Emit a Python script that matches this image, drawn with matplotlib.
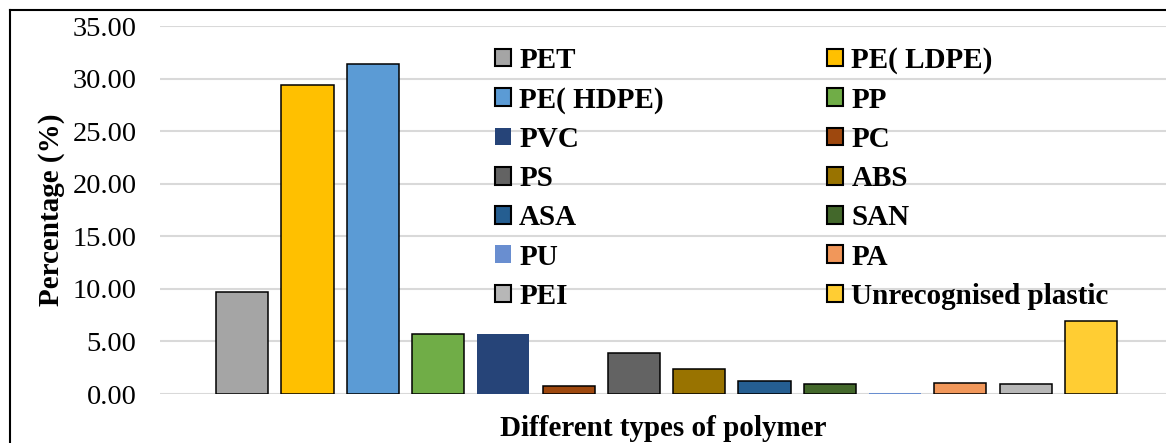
import matplotlib.pyplot as plt
from matplotlib.patches import Patch
from matplotlib.lines import Line2D

# Datos del gráfico
polymers = ["PET", "PE( LDPE)", "PE( HDPE)", "PP", "PVC", "PC", "PS", "ABS",
            "ASA", "SAN", "PU", "PA", "PEI", "Unrecognised plastic"]
percent = [9.7, 29.4, 31.4, 5.7, 5.7, 0.8, 3.9, 2.4, 1.2, 0.95, 0.05, 1.05, 0.95, 6.9]
colors = ["#A5A5A5", "#FFC000", "#5B9BD5", "#70AD47", "#264478", "#9E480E", "#636363",
          "#997300", "#255E91", "#43682B", "#698ED0", "#F1975A", "#B7B7B7", "#FFCD33"]
edged = [True, True, True, True, False, True, True, True, True, True, False, True, True, True]
yticks = [0, 5, 10, 15, 20, 25, 30, 35]

plt.rcParams["font.family"] = "Liberation Serif"

fig = plt.figure(figsize=(11.66, 4.43), dpi=100)
ax = fig.add_axes([160 / 1166, 1 - 394 / 443, 1 - 160 / 1166, 368 / 443])

x = list(range(len(polymers)))
for i in x:
    ax.bar(i, percent[i], width=0.8, color=colors[i],
           edgecolor="black" if edged[i] else colors[i],
           linewidth=1.1 if edged[i] else 0, zorder=3)

ax.set_ylim(0, 35)
ax.set_xlim(-1.26, 14.15)
ax.set_yticks(yticks)
ax.set_yticklabels([f"{v:.2f}" for v in yticks], fontsize=20.5)
ax.tick_params(axis="y", length=0, pad=17)
ax.set_xticks([])
ax.grid(axis="y", color="#D9D9D9", linewidth=1.5, zorder=0)
for s in ax.spines.values():
    s.set_visible(False)

ax.set_ylabel("Percentage (%)", fontsize=21, fontweight="bold")
ax.yaxis.set_label_coords(-0.094, 0.5)
ax.set_xlabel("Different types of polymer", fontsize=21, fontweight="bold")
ax.xaxis.set_label_coords(0.5, -0.094)
ax.xaxis.label.set_va("center")

# Leyenda en dos columnas (orden por filas como en Excel)
handles = []
for i in x:
    handles.append(Patch(facecolor=colors[i],
                         edgecolor="black" if edged[i] else colors[i],
                         linewidth=1.5 if edged[i] else 0, label=polymers[i]))
order = list(range(0, 14, 2)) + list(range(1, 14, 2))
leg = ax.legend([handles[i] for i in order], [polymers[i] for i in order],
                ncol=2, loc="upper left", bbox_to_anchor=(495 / 1166, 1 - 47 / 443),
                bbox_transform=fig.transFigure, frameon=False, borderpad=0,
                borderaxespad=0, handlelength=0.55, handleheight=0.55,
                handletextpad=0.28, labelspacing=0.42, columnspacing=5.6,
                prop={"family": "Liberation Serif", "weight": "bold", "size": 21})

# Borde exterior
fig.add_artist(Line2D([10 / 1166, 10 / 1166], [0, 1 - 10 / 443],
                      transform=fig.transFigure, color="black", linewidth=1.5))
fig.add_artist(Line2D([10 / 1166, 1], [1 - 10 / 443, 1 - 10 / 443],
                      transform=fig.transFigure, color="black", linewidth=1.5))

fig.savefig("out.png", dpi=100)
